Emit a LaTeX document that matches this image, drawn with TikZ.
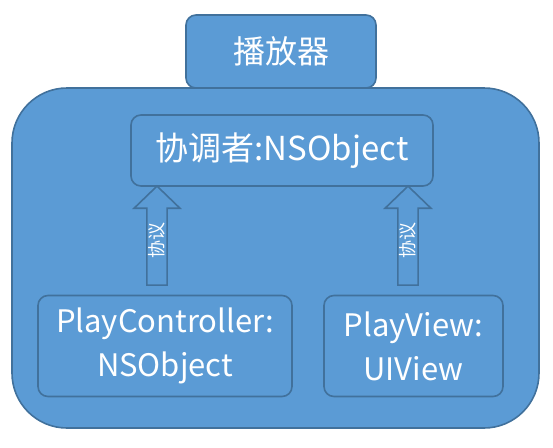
\documentclass[tikz,border=0pt]{standalone}
\usepackage{fontspec}
\setmainfont{Noto Sans CJK SC}
\usetikzlibrary{shapes.arrows}
\definecolor{boxfill}{HTML}{5B9BD5}
\definecolor{boxline}{HTML}{41719C}
\tikzset{
  box/.style={draw=boxline, fill=boxfill, line width=1.6pt, rounded corners=10pt, text=white, align=center, inner sep=0pt},
  uparrow/.style={single arrow, draw=boxline, fill=boxfill, line width=1.6pt, rotate=90,
    minimum height=99pt, minimum width=46pt, single arrow head extend=11.5pt,
    single arrow tip angle=92, text=white, inner sep=0pt, font=\fontsize{18}{18}\selectfont}
}
\begin{document}
\begin{tikzpicture}[x=1pt,y=-1pt]
\useasboundingbox (0,0) rectangle (553,447);
\node[box, minimum width=190pt, minimum height=73pt, font=\fontsize{32}{32}\selectfont] (player) at (281,51.5) {播放器};
\node[box, rounded corners=55pt, minimum width=527pt, minimum height=340pt] (outer) at (275.5,258) {};
\node[box, minimum width=302pt, minimum height=71pt, font=\fontsize{33}{33}\selectfont] (coord) at (282,150.5) {协调者:NSObject};
\node[box, minimum width=254pt, minimum height=101pt, font=\fontsize{31}{44}\selectfont] (ctrl) at (165,346) {PlayController:\\NSObject};
\node[box, minimum width=179pt, minimum height=101pt, font=\fontsize{31}{44}\selectfont] (view) at (413.5,346) {PlayView:\\UIView};
\node[uparrow] (a1) at (157,240.5) {协议};
\node[uparrow] (a2) at (408,240.5) {协议};
\end{tikzpicture}
\end{document}
